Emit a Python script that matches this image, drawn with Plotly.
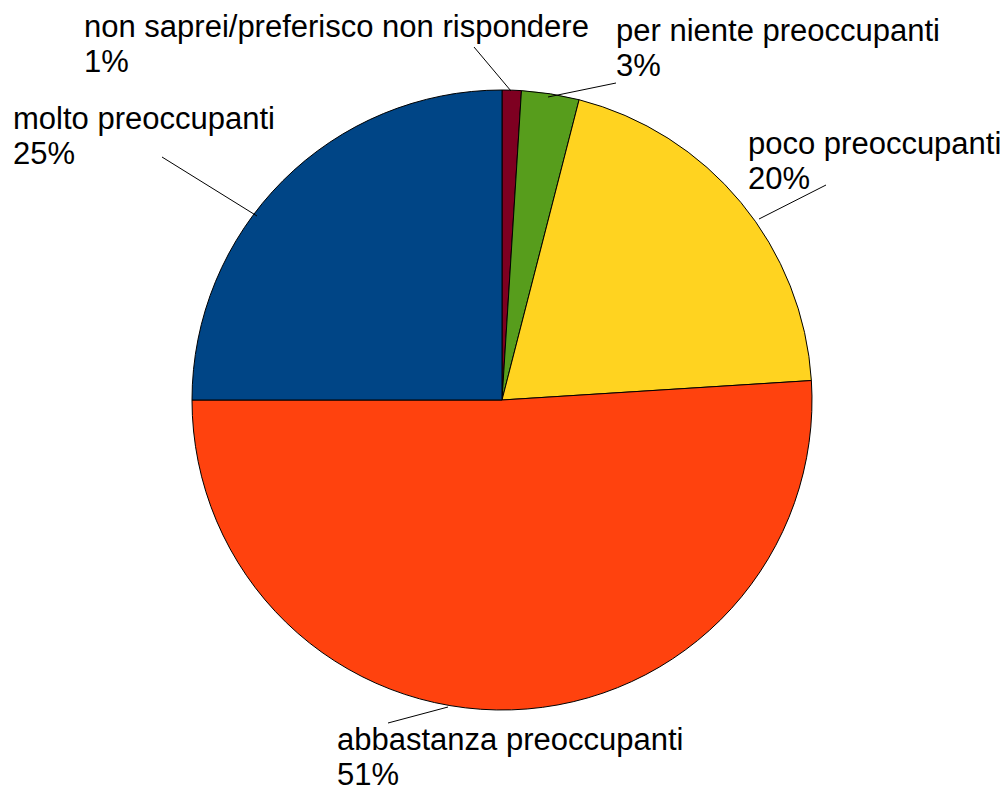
import plotly.graph_objects as go

labels = [
    "non saprei/preferisco non rispondere",
    "per niente preoccupanti",
    "poco preoccupanti",
    "abbastanza preoccupanti",
    "molto preoccupanti",
]
values = [1, 3, 20, 51, 25]
colors = ["#7E0021", "#579D1C", "#FFD320", "#FF420E", "#004586"]

# the page body adds an 8px margin, so the figure is 1000x782
# and all pixel positions below are measured on the 1008x790 page
W, H, OFF = 1000, 782, 8


def px_x(x):
    return (x - OFF) / W


def px_y(y):
    return 1 - (y - OFF) / H


# left edge and first-line baseline of each label, in page pixels
label_pos = [(85, 40), (617, 44), (749, 157), (338, 753), (14, 132)]
line_gap = 35
leaders = [
    ((474, 47), (511, 91)),
    ((548, 97), (616, 83)),
    ((759, 219), (826, 185)),
    ((388, 723), (448, 707)),
    ((162, 157), (257, 216)),
]

fig = go.Figure(go.Pie(
    labels=labels,
    values=values,
    sort=False,
    direction="clockwise",
    rotation=0,
    textinfo="none",
    hoverinfo="label+percent",
    marker=dict(colors=colors, line=dict(color="#000000", width=1)),
    domain=dict(x=[px_x(192), px_x(812)], y=[px_y(710), px_y(90)]),
    showlegend=False,
))

font = dict(family="Liberation Sans, Arial, sans-serif", size=31, color="#000000")
total = sum(values)
for lab, val, (lx, base) in zip(labels, values, label_pos):
    for i, txt in enumerate([lab, f"{100*val/total:.0f}%"]):
        fig.add_annotation(
            text=txt,
            x=px_x(lx - 2), y=px_y(base + i*line_gap - 32),
            xref="paper", yref="paper",
            xanchor="left", yanchor="top",
            align="left", showarrow=False,
            borderpad=0,
            font=font,
        )

for (x0, y0), (x1, y1) in leaders:
    fig.add_shape(
        type="line", xref="paper", yref="paper",
        x0=px_x(x0), y0=px_y(y0), x1=px_x(x1), y1=px_y(y1),
        line=dict(color="#000000", width=1),
    )

fig.update_layout(
    width=W, height=H,
    margin=dict(l=0, r=0, t=0, b=0),
    paper_bgcolor="#FFFFFF",
    plot_bgcolor="#FFFFFF",
)

fig.write_html("out.html")
